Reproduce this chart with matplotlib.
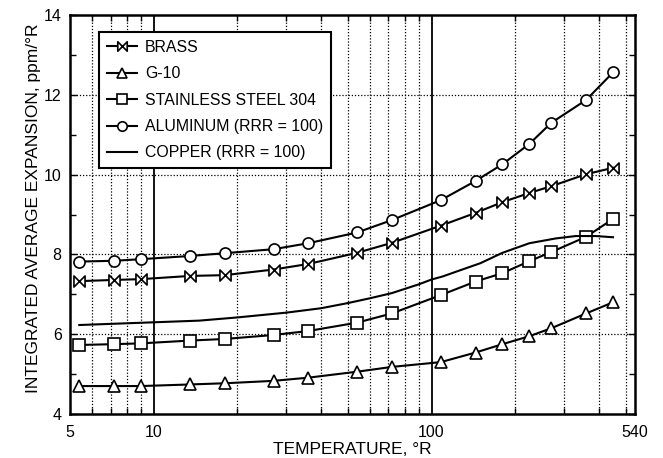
import matplotlib.pyplot as plt
import numpy as np
from matplotlib.path import Path
from matplotlib.ticker import FixedLocator, NullFormatter

plt.rcParams['font.family'] = ['Liberation Sans', 'DejaVu Sans']

# temperatures in deg R (3 K ... 250 K)
temps = [5.4, 7.2, 9, 13.5, 18, 27, 36, 54, 72, 108, 144, 180, 225, 270, 360, 450]
brass = [7.33, 7.36, 7.38, 7.46, 7.48, 7.62, 7.76, 8.04, 8.29, 8.72, 9.04, 9.31, 9.54, 9.71, 10.01, 10.17]
g10 = [4.70, 4.70, 4.70, 4.74, 4.77, 4.83, 4.91, 5.06, 5.18, 5.30, 5.54, 5.75, 5.95, 6.15, 6.52, 6.80]
ss304 = [5.73, 5.75, 5.77, 5.84, 5.88, 5.98, 6.08, 6.29, 6.52, 6.98, 7.32, 7.53, 7.83, 8.06, 8.44, 8.89]
aluminum = [7.82, 7.84, 7.88, 7.96, 8.03, 8.13, 8.28, 8.55, 8.86, 9.36, 9.84, 10.26, 10.77, 11.30, 11.87, 12.56]

copper_t = [5.4, 14.6, 20, 30, 40, 50, 60, 72, 90, 100, 110, 123, 150, 180, 225, 280, 330, 390, 450]
copper = [6.23, 6.34, 6.42, 6.54, 6.65, 6.78, 6.90, 7.03, 7.25, 7.37, 7.45, 7.57, 7.78, 8.04, 8.28, 8.40, 8.46, 8.46, 8.43]

# bowtie marker for brass
bowtie = Path([(-1, -1), (1, 1), (1, -1), (-1, 1), (-1, -1)],
              [Path.MOVETO, Path.LINETO, Path.LINETO, Path.LINETO, Path.CLOSEPOLY])

fig = plt.figure(figsize=(6.63, 4.58), dpi=100)
ax = fig.add_axes([0.1056, 0.0961, 0.8522, 0.8711])

lw = 1.5
mk = dict(color='black', lw=lw, markerfacecolor='white', markeredgecolor='black',
          markeredgewidth=1.2, markersize=8)
ax.plot(temps, brass, marker=bowtie, label='BRASS', zorder=3, **mk)
ax.plot(temps, g10, marker='^', label='G-10', zorder=3, **mk)
ax.plot(temps, ss304, marker='s', label='STAINLESS STEEL 304', zorder=3, **mk)
ax.plot(temps, aluminum, marker='o', label='ALUMINUM (RRR = 100)', zorder=3, **mk)
ax.plot(copper_t, copper, color='black', lw=lw, label='COPPER (RRR = 100)', zorder=3)

ax.set_xscale('log')
ax.set_xlim(5, 540)
ax.set_ylim(4, 14)

minor_x = [6, 7, 8, 9, 20, 30, 40, 50, 60, 70, 80, 90, 200, 300, 400, 500]
ax.xaxis.set_major_locator(FixedLocator([5, 10, 100, 540]))
ax.set_xticklabels(['5', '10', '100', '540'])
ax.xaxis.set_minor_locator(FixedLocator(minor_x))
ax.xaxis.set_minor_formatter(NullFormatter())
ax.set_yticks([4, 6, 8, 10, 12, 14])
ax.set_yticks([5, 7, 9, 11, 13], minor=True)

# dotted grid, solid decade lines
for x in minor_x:
    ax.axvline(x, color='black', lw=0.9, ls=(0, (1, 1.5)), zorder=1)
for y in [6, 8, 10, 12]:
    ax.axhline(y, color='black', lw=0.9, ls=(0, (1, 1.5)), zorder=1)
for x in [10, 100]:
    ax.axvline(x, color='black', lw=1.3, zorder=1)

ax.tick_params(which='both', direction='in', top=True, right=True, labelsize=11.5,
               width=1.0, pad=6)
ax.tick_params(which='major', length=5)
ax.tick_params(which='minor', length=4)
ax.tick_params(axis='x', which='major', length=0, pad=8)
for s in ax.spines.values():
    s.set_linewidth(1.8)

ax.set_xlabel('TEMPERATURE, °R', fontsize=12.5, va='center')
ax.set_ylabel('INTEGRATED AVERAGE EXPANSION, ppm/°R', fontsize=12.5, va='center')
ax.xaxis.set_label_coords(0.5, -0.090)
ax.yaxis.set_label_coords(-0.0655, 0.515)

leg = ax.legend(loc='upper left', bbox_to_anchor=(0.0513, 0.9576), fontsize=11.4,
                fancybox=False, framealpha=1, edgecolor='black', handlelength=1.9,
                borderpad=0.5, labelspacing=0.72, handletextpad=0.5, borderaxespad=0,
                markerscale=0.85)
leg.get_frame().set_linewidth(1.5)

fig.savefig('out.png', dpi=100)
